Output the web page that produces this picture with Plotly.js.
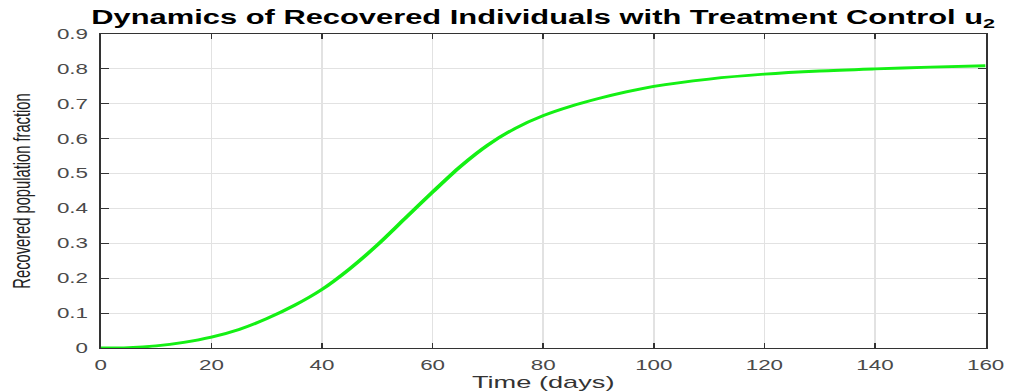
<!DOCTYPE html>
<html>
<head>
<meta charset="utf-8">
<script src="https://cdn.plot.ly/plotly-3.0.1.min.js"></script>
<style>
  html, body { margin: 0; padding: 0; background: #ffffff; }
  #wrap { width: 1010px; height: 392px; overflow: hidden; }
  #plot { width: 631.25px; height: 392px; transform: scaleX(1.6); transform-origin: 0 0; }
</style>
</head>
<body>
<div id="wrap"><div id="plot"></div></div>
<script>
// Data
const days = [0, 5, 10, 15, 20, 25, 30, 35, 40, 45, 50, 55, 60, 65, 70, 75, 80, 85, 90, 95, 100, 110, 120, 130, 140, 150, 160];
const recovered = [0, 0.001, 0.006, 0.016, 0.031, 0.053, 0.084, 0.122, 0.168, 0.227, 0.295, 0.371, 0.447, 0.52, 0.582, 0.63, 0.666, 0.693, 0.715, 0.734, 0.75, 0.771, 0.785, 0.794, 0.8, 0.805, 0.809];
const xTicks = [0, 20, 40, 60, 80, 100, 120, 140, 160];
const yTicks = [0, 0.1, 0.2, 0.3, 0.4, 0.5, 0.6, 0.7, 0.8, 0.9];
const yTickText = ['0', '0.1', '0.2', '0.3', '0.4', '0.5', '0.6', '0.7', '0.8', '0.9'];

const trace = {
  x: days,
  y: recovered,
  type: 'scatter',
  mode: 'lines',
  line: { color: '#14f014', width: 2.8, shape: 'spline', smoothing: 0.8 },
  hoverinfo: 'skip'
};

const axisCommon = {
  showline: true,
  linecolor: '#333333',
  linewidth: 1.2,
  mirror: 'ticks',
  ticks: 'inside',
  ticklen: 5,
  tickwidth: 1,
  tickcolor: '#333333',
  showgrid: true,
  gridcolor: '#e2e2e2',
  gridwidth: 1,
  zeroline: false,
  tickfont: { family: 'Liberation Sans, Arial, sans-serif', size: 14, color: '#4a4a4a' }
};

const layout = {
  width: 631.25,
  height: 392,
  margin: { l: 63.1, r: 15, t: 34, b: 44 },
  paper_bgcolor: '#ffffff',
  plot_bgcolor: '#ffffff',
  showlegend: false,
  title: {
    text: 'Dynamics of Recovered Individuals with Treatment Control u<sub>2</sub>',
    font: { family: 'Liberation Sans, Arial, sans-serif', size: 19.3, color: '#000000', weight: 'bold' },
    x: 0.5, xref: 'paper', xanchor: 'center',
    y: 0.957, yref: 'container', yanchor: 'middle'
  },
  xaxis: Object.assign({}, axisCommon, {
    range: [0, 160],
    tickvals: xTicks,
    ticktext: xTicks.map(String),
    ticklabelstandoff: 4,
    title: { text: 'Time (days)', font: { family: 'Liberation Sans, Arial, sans-serif', size: 17, color: '#333333' }, standoff: 2 }
  }),
  yaxis: Object.assign({}, axisCommon, {
    range: [0, 0.9],
    tickvals: yTicks,
    ticktext: yTickText,
    ticklabelstandoff: 4,
    title: { text: 'Recovered population fraction', font: { family: 'Liberation Sans, Arial, sans-serif', size: 14.7, color: '#222222' }, standoff: 12 }
  })
};

Plotly.newPlot('plot', [trace], layout, { displayModeBar: false, staticPlot: true });
</script>
</body>
</html>
